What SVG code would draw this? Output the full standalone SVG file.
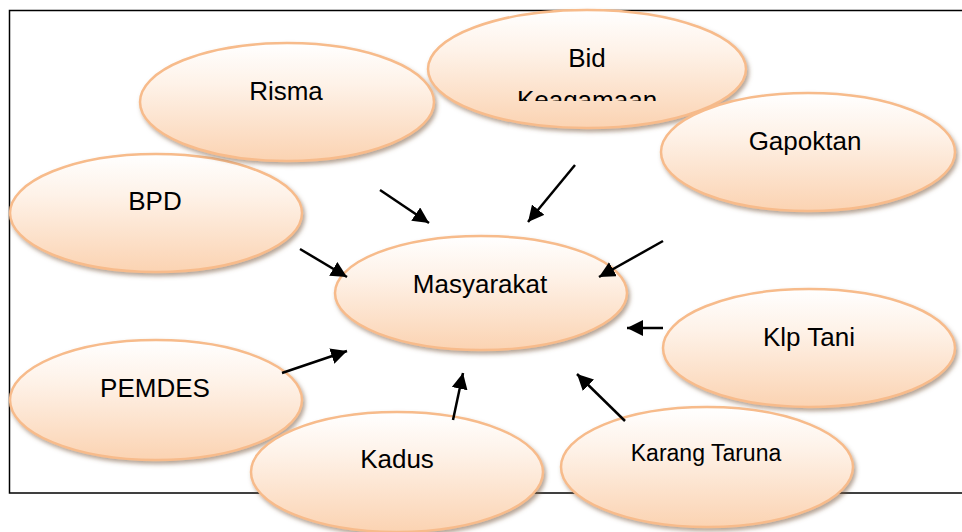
<svg xmlns="http://www.w3.org/2000/svg" width="962" height="532" viewBox="0 0 962 532">
<defs>
<linearGradient id="fillGrad" x1="0" y1="0" x2="0" y2="1">
<stop offset="0" stop-color="#ffffff"/>
<stop offset="0.35" stop-color="#fef2e8"/>
<stop offset="1" stop-color="#fbd3b2"/>
</linearGradient>
<filter id="shadow" x="-10%" y="-10%" width="125%" height="135%">
<feGaussianBlur in="SourceAlpha" stdDeviation="2"/>
<feOffset dx="2" dy="3" result="b"/>
<feFlood flood-color="#7a5a40" flood-opacity="0.55"/>
<feComposite in2="b" operator="in" result="s"/>
<feMerge><feMergeNode in="s"/><feMergeNode in="SourceGraphic"/></feMerge>
</filter>
<marker id="arrow" markerUnits="userSpaceOnUse" markerWidth="18" markerHeight="16" refX="16" refY="8" orient="auto">
<path d="M0,0 L16,8 L0,16 Z" fill="#000"/>
</marker>
<clipPath id="bidClip"><rect x="428" y="20" width="318" height="81"/></clipPath>
</defs>
<style>
.node ellipse { fill: url(#fillGrad); stroke: #f7bb8b; stroke-width: 2.5; filter: url(#shadow); }
.node text { font-family: "Liberation Sans", Arial, sans-serif; font-size: 26px; fill: #000; text-anchor: middle; }
.conn line { stroke: #000; stroke-width: 2.5; marker-end: url(#arrow); }
</style>
<rect x="9.5" y="10.5" width="962" height="482.5" fill="none" stroke="#000" stroke-width="1.5"/>
<g id="node-bpd" class="node"><ellipse cx="156" cy="213" rx="146" ry="59"/><text x="155" y="210">BPD</text></g>
<g id="node-risma" class="node"><ellipse cx="287" cy="102" rx="147" ry="59"/><text x="286" y="100">Risma</text></g>
<g id="node-bid" class="node"><ellipse cx="587" cy="69" rx="159" ry="59"/><text x="587" y="67">Bid</text><text x="587" y="109" clip-path="url(#bidClip)">Keagamaan</text></g>
<g id="node-gapoktan" class="node"><ellipse cx="808" cy="152" rx="147" ry="59"/><text x="805" y="150">Gapoktan</text></g>
<g id="node-masyarakat" class="node"><ellipse cx="481" cy="293" rx="146" ry="57"/><text x="480" y="293">Masyarakat</text></g>
<g id="node-klptani" class="node"><ellipse cx="809" cy="348" rx="146" ry="59"/><text x="809" y="346">Klp Tani</text></g>
<g id="node-pemdes" class="node"><ellipse cx="156" cy="400" rx="146" ry="60"/><text x="155" y="397">PEMDES</text></g>
<g id="node-kadus" class="node"><ellipse cx="397" cy="472" rx="146" ry="60"/><text x="397" y="468">Kadus</text></g>
<g id="node-karangtaruna" class="node"><ellipse cx="707" cy="467" rx="146" ry="60"/><text x="706" y="461" style="font-size:23px">Karang Taruna</text></g>
<g id="connectors" class="conn">
<line x1="380" y1="190" x2="429" y2="223"/>
<line x1="575" y1="165" x2="528" y2="222"/>
<line x1="300" y1="249" x2="347" y2="277"/>
<line x1="663" y1="241" x2="599" y2="277"/>
<line x1="663" y1="328" x2="627" y2="328"/>
<line x1="282" y1="373" x2="347" y2="351"/>
<line x1="453" y1="420" x2="463" y2="373"/>
<line x1="625" y1="421" x2="577" y2="374"/>
</g>
</svg>
